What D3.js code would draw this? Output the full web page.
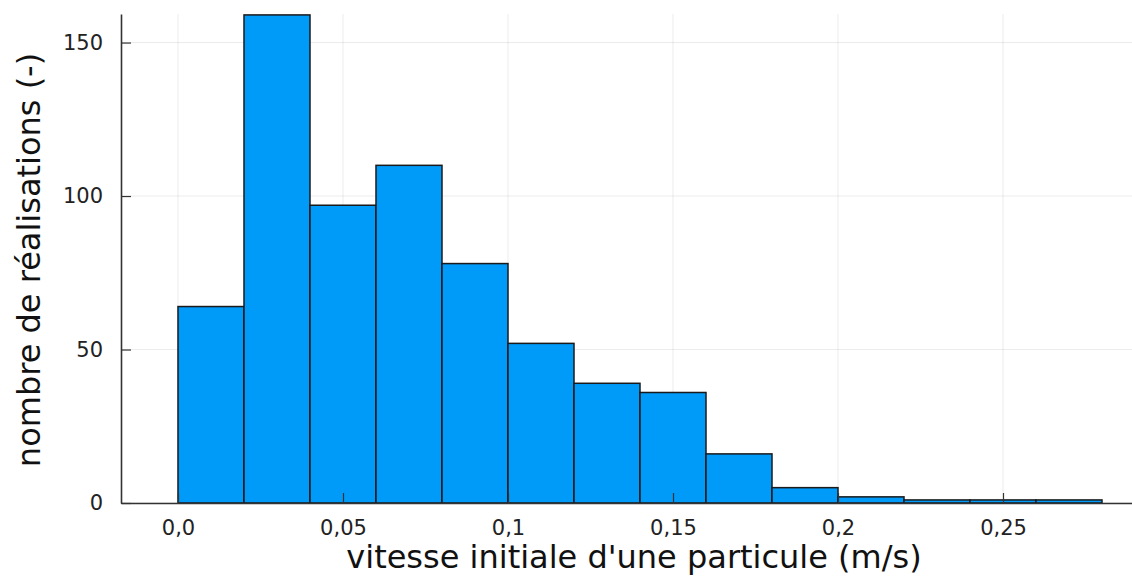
<!DOCTYPE html>
<html>
<head>
<meta charset="utf-8">
<script src="https://cdn.jsdelivr.net/npm/d3@7"></script>
<style>
  body { margin: 0; background: #fff; }
  svg { display: block; font-family: "DejaVu Sans", sans-serif; }
</style>
</head>
<body>
<svg id="hist" width="1132" height="576"></svg>
<script>
// histogram bins (m/s) and counts
const binStarts = [0.00, 0.02, 0.04, 0.06, 0.08, 0.10, 0.12, 0.14, 0.16, 0.18, 0.20, 0.22, 0.24, 0.26];
const binWidth = 0.02;
const counts = [64, 159, 97, 110, 78, 52, 39, 36, 16, 5, 2, 1, 1, 1];

const xTicks = [0, 0.05, 0.1, 0.15, 0.2, 0.25];
const xTickLabels = ["0,0", "0,05", "0,1", "0,15", "0,2", "0,25"];
const yTicks = [0, 50, 100, 150];

const svg = d3.select("#hist");
const margin = { top: 14, right: 0, bottom: 73, left: 121 },
      width = +svg.attr("width") - margin.left - margin.right,
      height = +svg.attr("height") - margin.top - margin.bottom;

const g = svg.append("g").attr("transform", `translate(${margin.left},${margin.top})`);

const x = d3.scaleLinear().domain([-0.01727, 0.28909]).range([0, width]);
const y = d3.scaleLinear().domain([0, 159.3]).range([height, 0]);

// grid
g.selectAll("line.gx")
  .data(xTicks)
  .enter().append("line")
  .attr("x1", d => x(d)).attr("x2", d => x(d))
  .attr("y1", 0).attr("y2", height)
  .attr("stroke", "#000").attr("stroke-opacity", 0.08).attr("stroke-width", 1);

g.selectAll("line.gy")
  .data(yTicks)
  .enter().append("line")
  .attr("x1", 0).attr("x2", width)
  .attr("y1", d => y(d)).attr("y2", d => y(d))
  .attr("stroke", "#000").attr("stroke-opacity", 0.08).attr("stroke-width", 1);

// bars
g.selectAll("rect")
  .data(counts)
  .enter().append("rect")
  .attr("x", (d, i) => x(binStarts[i]))
  .attr("y", d => y(d))
  .attr("width", (d, i) => x(binStarts[i] + binWidth) - x(binStarts[i]))
  .attr("height", d => height - y(d))
  .attr("fill", "#009af9")
  .attr("stroke", "#1a1a1a")
  .attr("stroke-width", 1.5);

// axes
const xAxis = d3.axisBottom(x)
  .tickValues(xTicks)
  .tickFormat((d, i) => xTickLabels[i])
  .tickSizeInner(-10).tickSizeOuter(0).tickPadding(17);
const yAxis = d3.axisLeft(y)
  .tickValues(yTicks)
  .tickSizeInner(-10).tickSizeOuter(0).tickPadding(18);

const gx = g.append("g").attr("transform", `translate(0,${height})`).call(xAxis);
const gy = g.append("g").call(yAxis);

[gx, gy].forEach(a => {
  a.select(".domain").attr("stroke", "#333").attr("stroke-width", 1.6);
  a.selectAll(".tick line").attr("stroke", "#333").attr("stroke-width", 1.2);
  a.selectAll(".tick text").attr("font-size", "21px").attr("fill", "#222")
    .attr("font-family", "DejaVu Sans, sans-serif");
});

// axis titles
svg.append("text")
  .attr("x", 634)
  .attr("y", 568)
  .attr("text-anchor", "middle")
  .attr("font-size", "32px")
  .attr("fill", "#111")
  .text("vitesse initiale d'une particule (m/s)");

svg.append("text")
  .attr("transform", "translate(40,260) rotate(-90)")
  .attr("text-anchor", "middle")
  .attr("font-size", "32px")
  .attr("fill", "#111")
  .text("nombre de réalisations (-)");
</script>
</body>
</html>
